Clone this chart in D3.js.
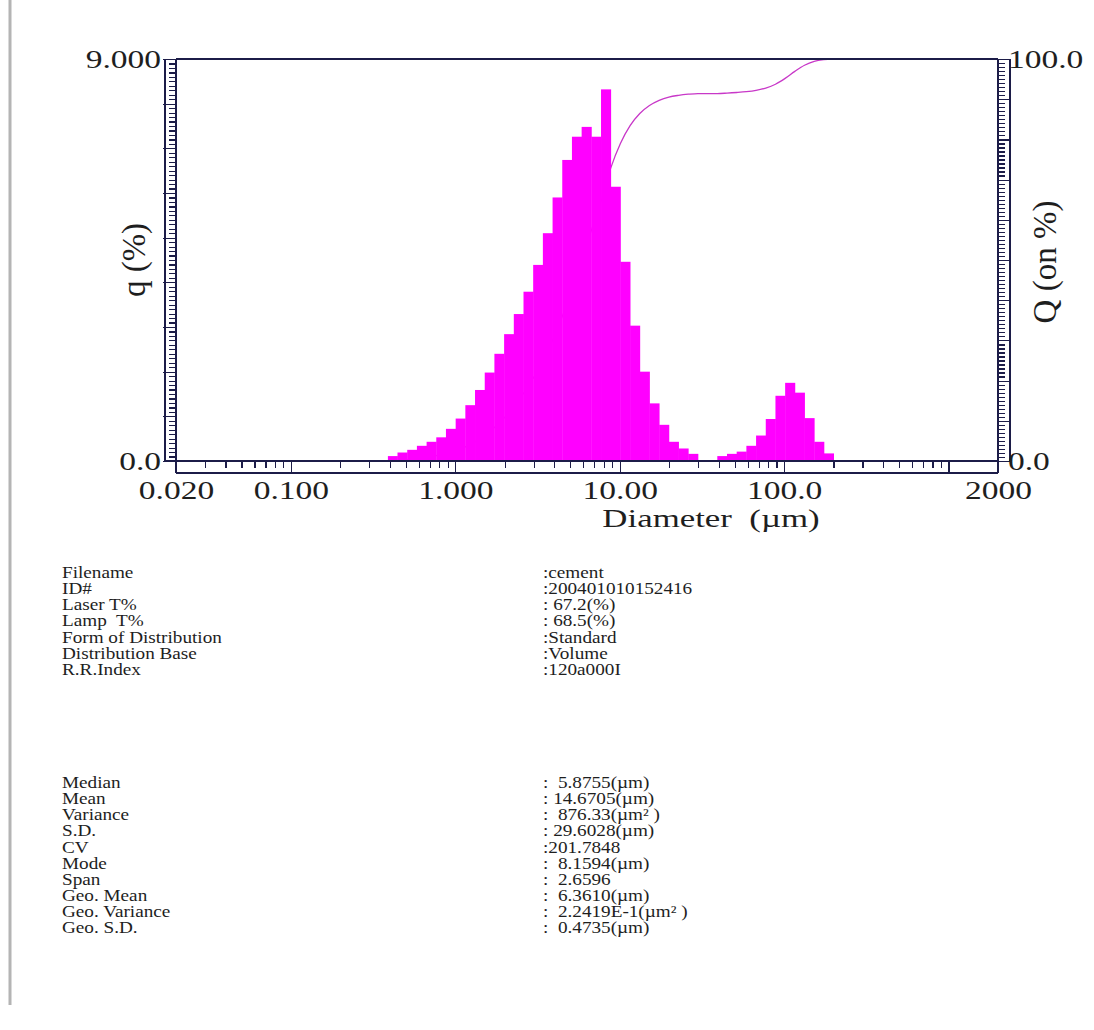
<!DOCTYPE html>
<html>
<meta charset="utf-8">
<title>Particle size distribution - cement</title>
<style>
	body {
		margin: 0;
		background: #fff;
	}

	svg text {
		font-family: "Liberation Serif", "DejaVu Serif", serif;
		fill: #1e1e1e;
	}

	.ax path.domain {
		display: none;
	}

	.ax line {
		stroke: #1c1c48;
		stroke-width: 1.2;
		shape-rendering: crispEdges;
	}

	.ax text {
		font-size: 25px;
	}

	.frame {
		stroke: #1c1c48;
		stroke-width: 1.6;
		shape-rendering: crispEdges;
	}

	.bar {
		fill: #ff00ff;
	}

	.cum {
		fill: none;
		stroke: #c838c8;
		stroke-width: 1.3;
	}

	.info text {
		font-size: 16px;
		white-space: pre;
	}
</style>

<body>
	<div id="chart"></div>

	<script src="https://cdnjs.cloudflare.com/ajax/libs/d3/7.8.5/d3.min.js"></script>

	<script>
		// channel edges (um) of the bars, and q (%) per channel
		var binEdges = [0.389, 0.445, 0.510, 0.584, 0.669, 0.766, 0.877, 1.005, 1.151, 1.318,
			1.510, 1.729, 1.981, 2.269, 2.599, 2.976, 3.409, 3.905, 4.472, 5.122,
			5.867, 6.720, 7.697, 8.816, 10.097, 11.565, 13.246, 15.172, 17.377, 19.904,
			22.797, 26.111, 29.907, 34.255, 39.234, 44.938, 51.471, 58.953, 67.523, 77.339,
			88.583, 101.46, 116.21, 133.10, 152.45, 174.62, 200.00];

		var qPercent = [0.11, 0.19, 0.25, 0.34, 0.43, 0.53, 0.72, 0.95, 1.25, 1.59,
			1.98, 2.40, 2.84, 3.29, 3.79, 4.39, 5.10, 5.90, 6.74, 7.26,
			7.48, 7.26, 8.32, 6.14, 4.46, 3.03, 2.00, 1.29, 0.81, 0.43,
			0.28, 0.16, 0, 0, 0.11, 0.16, 0.21, 0.34, 0.57, 0.94,
			1.46, 1.75, 1.53, 0.96, 0.43, 0.17];

		var xLabelValues = [0.02, 0.1, 1, 10, 100, 2000];
		var xLabelText = ["0.020", "0.100", "1.000", "10.00", "100.0", "2000"];
		var xMajorValues = [0.1, 1, 10, 100, 1000];

		var yLeftLabelValues = [0, 9];
		var yLeftLabelText = ["0.0", "9.000"];
		var yRightLabelValues = [0, 100];
		var yRightLabelText = ["0.0", "100.0"];

		var infoLabels = ["Filename", "ID#", "Laser T%", "Lamp  T%", "Form of Distribution", "Distribution Base", "R.R.Index"];
		var infoValues = [":cement", ":200401010152416", ": 67.2(%)", ": 68.5(%)", ":Standard", ":Volume", ":120a000I"];

		var statLabels = ["Median", "Mean", "Variance", "S.D.", "CV", "Mode", "Span", "Geo. Mean", "Geo. Variance", "Geo. S.D."];
		var statValues = [":  5.8755(µm)", ": 14.6705(µm)", ":  876.33(µm² )", ": 29.6028(µm)", ":201.7848",
			":  8.1594(µm)", ":  2.6596", ":  6.3610(µm)", ":  2.2419E-1(µm² )", ":  0.4735(µm)"];

		var width = 1094,
			height = 1030,
			plot = { left: 176, right: 998, top: 59, bottom: 461 },
			ladder = 11,      // width of the tick "ladders" on both sides
			boxBottom = 473,  // lower line of the diameter axis box
			sx = 1.34;        // horizontal stretch of the axis lettering

		var svg = d3.select("#chart").append("svg")
			.attr("width", width)
			.attr("height", height);

		var x = d3.scaleLog().domain([0.02, 2000]).range([plot.left, plot.right]);
		var yL = d3.scaleLinear().domain([0, 9]).range([plot.bottom, plot.top]);
		var yR = d3.scaleLinear().domain([0, 100]).range([plot.bottom, plot.top]);

		// page margin line
		svg.append("line")
			.attr("x1", 10).attr("x2", 10).attr("y1", 0).attr("y2", 1005)
			.style("stroke", "#b4b4b4").style("stroke-width", 3);

		// cumulative curve (drawn first, the bars cover it)
		var total = d3.sum(qPercent);
		var cum = [0].concat(Array.from(d3.cumsum(qPercent), function (v) {
			return v / total * 100;
		}));
		var cumPts = binEdges.map(function (e, i) {
			return [e, cum[i]];
		});

		svg.append("path")
			.datum(cumPts)
			.attr("class", "cum")
			.attr("d", d3.line()
				.x(function (d) { return x(d[0]); })
				.y(function (d) { return yR(d[1]); })
				.curve(d3.curveMonotoneX));

		// histogram
		svg.append("g").selectAll("rect")
			.data(qPercent)
			.join("rect")
			.attr("class", "bar")
			.attr("x", function (d, i) { return x(binEdges[i]); })
			.attr("width", function (d, i) { return x(binEdges[i + 1]) - x(binEdges[i]) + 0.4; })
			.attr("y", function (d) { return yL(d); })
			.attr("height", function (d) { return yL(0) - yL(d); });

		// frame
		var frame = [
			[plot.left, plot.top, plot.right, plot.top],
			[plot.right, plot.top, plot.right, boxBottom],
			[plot.left, plot.top, plot.left, boxBottom],
			[plot.left - ladder, plot.bottom, plot.right, plot.bottom],
			[plot.left, boxBottom, plot.right, boxBottom],
			[plot.left - ladder, plot.top, plot.left - ladder, plot.bottom],
			[plot.right + ladder + 1, plot.top, plot.right + ladder + 1, plot.bottom]
		];
		svg.append("g").selectAll("line")
			.data(frame)
			.join("line")
			.attr("class", "frame")
			.attr("x1", function (d) { return d[0]; })
			.attr("y1", function (d) { return d[1]; })
			.attr("x2", function (d) { return d[2]; })
			.attr("y2", function (d) { return d[3]; });

		// diameter axis
		var xMinorValues = x.ticks().filter(function (d) {
			var l = Math.log10(d);
			return d > 0.02 && d < 2000 && Math.abs(l - Math.round(l)) > 1e-6;
		});

		svg.append("g").attr("class", "ax")
			.attr("transform", "translate(0," + plot.bottom + ")")
			.call(d3.axisBottom(x).tickValues(xMinorValues).tickSize(7).tickSizeOuter(0).tickFormat(""));

		svg.append("g").attr("class", "ax")
			.attr("transform", "translate(0," + plot.bottom + ")")
			.call(d3.axisBottom(x).tickValues(xMajorValues).tickSize(boxBottom - plot.bottom).tickSizeOuter(0).tickFormat(""));

		var xLab = svg.append("g").attr("class", "ax")
			.attr("transform", "translate(0," + plot.bottom + ")")
			.call(d3.axisBottom(x).tickValues(xLabelValues).tickSize(0).tickSizeOuter(0)
				.tickFormat(function (d) { return xLabelText[xLabelValues.indexOf(d)]; }));
		xLab.selectAll("line").remove();
		xLab.selectAll("text")
			.attr("y", null)
			.attr("dy", null)
			.attr("transform", "translate(0,38) scale(" + sx + ",1)");

		// left ladder (q)
		var left = svg.append("g").attr("transform", "translate(" + plot.left + ",0)");
		left.append("g").attr("class", "ax")
			.call(d3.axisLeft(yL).tickValues(yL.ticks(90)).tickSize(7).tickSizeOuter(0).tickFormat(""));
		left.append("g").attr("class", "ax")
			.call(d3.axisLeft(yL).tickValues(yL.ticks(9)).tickSize(ladder + 2).tickSizeOuter(0).tickFormat(""));
		var leftLab = left.append("g").attr("class", "ax")
			.call(d3.axisLeft(yL).tickValues(yLeftLabelValues).tickSize(0).tickSizeOuter(0)
				.tickFormat(function (d) { return yLeftLabelText[yLeftLabelValues.indexOf(d)]; }));
		leftLab.selectAll("line").remove();
		leftLab.selectAll("text")
			.attr("x", null)
			.attr("transform", "translate(-15,0) scale(" + sx + ",1)");

		// right ladder (Q)
		var right = svg.append("g").attr("transform", "translate(" + plot.right + ",0)");
		right.append("g").attr("class", "ax")
			.call(d3.axisRight(yR).tickValues(yR.ticks(100)).tickSize(7).tickSizeOuter(0).tickFormat(""));
		right.append("g").attr("class", "ax")
			.call(d3.axisRight(yR).tickValues(yR.ticks(10)).tickSize(ladder + 1).tickSizeOuter(0).tickFormat(""));
		var rightLab = right.append("g").attr("class", "ax")
			.call(d3.axisRight(yR).tickValues(yRightLabelValues).tickSize(0).tickSizeOuter(0)
				.tickFormat(function (d) { return yRightLabelText[yRightLabelValues.indexOf(d)]; }));
		rightLab.selectAll("line").remove();
		rightLab.selectAll("text")
			.attr("x", null)
			.attr("transform", "translate(10,0) scale(" + sx + ",1)");

		// axis titles
		svg.append("text")
			.attr("transform", "translate(711,527) scale(" + sx + ",1)")
			.attr("text-anchor", "middle")
			.style("font-size", "26px")
			.style("white-space", "pre")
			.text("Diameter  (µm)");

		svg.append("text")
			.attr("transform", "translate(145,260) rotate(-90)")
			.attr("text-anchor", "middle")
			.style("font-size", "33px")
			.text("q (%)");

		svg.append("text")
			.attr("transform", "translate(1056,262) rotate(-90)")
			.attr("text-anchor", "middle")
			.style("font-size", "33px")
			.text("Q (on %)");

		// measurement info
		function infoBlock(labels, values, y0) {
			var g = svg.append("g").attr("class", "info");
			labels.forEach(function (t, i) {
				var y = y0 + i * 16.15;
				g.append("text")
					.attr("xml:space", "preserve")
					.attr("transform", "translate(62," + y + ") scale(1.2,1)")
					.text(t);
				g.append("text")
					.attr("xml:space", "preserve")
					.attr("transform", "translate(543," + y + ") scale(1.2,1)")
					.text(values[i]);
			});
		}
		infoBlock(infoLabels, infoValues, 578);
		infoBlock(statLabels, statValues, 788);
	</script>
</body>

</html>
